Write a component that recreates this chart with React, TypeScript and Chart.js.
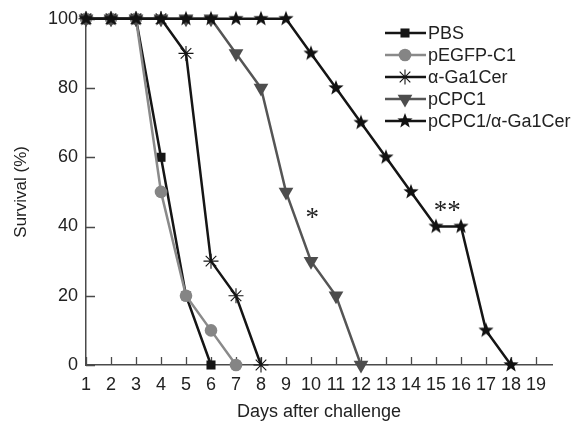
import React, { useEffect, useRef } from 'react';
import { Chart, registerables } from 'chart.js';
import { drawPoint } from 'chart.js/helpers';

Chart.register(...registerables);

// ---- data ----
const days = [1, 2, 3, 4, 5, 6, 7, 8, 9, 10, 11, 12, 13, 14, 15, 16, 17, 18, 19];
const xTickValues = [1, 2, 3, 4, 5, 6, 7, 8, 9, 10, 11, 12, 13, 14, 15, 16, 17, 18, 19];
const yTickValues = [0, 20, 40, 60, 80, 100];
const seriesNames = ['PBS', 'pEGFP-C1', 'α-Ga1Cer', 'pCPC1', 'pCPC1/α-Ga1Cer'];
const pbsValues = [100, 100, 100, 60, 20, 0];
const pegfpValues = [100, 100, 100, 50, 20, 10, 0];
const agalValues = [100, 100, 100, 100, 90, 30, 20, 0];
const pcpc1Values = [100, 100, 100, 100, 100, 100, 90, 80, 50, 30, 20, 0];
const comboValues = [100, 100, 100, 100, 100, 100, 100, 100, 100, 90, 80, 70, 60, 50, 40, 40, 10, 0];
const annotationLabels = ['*', '**'];
const annotationX = [10.05, 15.45];
const annotationY = [44, 46];
const xTitle = 'Days after challenge';
const yTitle = 'Survival (%)';

const FONT = "'Liberation Sans', Arial, Helvetica, sans-serif";
const AXIS = '#4a4a4a';
const TEXT = '#222222';

function makeStar(r: number, color: string): HTMLCanvasElement {
  const c = document.createElement('canvas');
  const s = Math.ceil(r * 2 + 2);
  c.width = s;
  c.height = s;
  const ctx = c.getContext('2d')!;
  ctx.fillStyle = color;
  ctx.beginPath();
  for (let i = 0; i < 10; i++) {
    const a = -Math.PI / 2 + (i * Math.PI) / 5;
    const rr = i % 2 === 0 ? r : r * 0.42;
    ctx.lineTo(s / 2 + rr * Math.cos(a), s / 2 + rr * Math.sin(a));
  }
  ctx.closePath();
  ctx.fill();
  return c;
}

function toPoints(vals: number[]) {
  return vals.map((v, i) => ({ x: days[i], y: v }));
}

const insideTicks = {
  id: 'insideTicks',
  beforeDatasetsDraw(chart: any) {
    const { ctx, chartArea, scales } = chart;
    const x = scales.x;
    const y = scales.y;
    ctx.save();
    ctx.strokeStyle = AXIS;
    ctx.lineWidth = 1.3;
    ctx.beginPath();
    x.ticks.forEach((t: any) => {
      const px = Math.round(x.getPixelForValue(t.value)) + 0.5;
      ctx.moveTo(px, chartArea.bottom);
      ctx.lineTo(px, chartArea.bottom - 8);
    });
    y.ticks.forEach((t: any) => {
      const py = Math.round(y.getPixelForValue(t.value)) + 0.5;
      ctx.moveTo(chartArea.left, py);
      ctx.lineTo(chartArea.left + 9, py);
    });
    ctx.stroke();
    ctx.restore();
  },
};

const customLegend = {
  id: 'customLegend',
  afterDraw(chart: any) {
    const { ctx } = chart;
    ctx.save();
    chart.data.datasets.forEach((ds: any, i: number) => {
      const yy = 33 + i * 22;
      ctx.strokeStyle = ds.borderColor;
      ctx.lineWidth = ds.borderWidth;
      ctx.beginPath();
      ctx.moveTo(385, yy);
      ctx.lineTo(426, yy);
      ctx.stroke();
      ctx.fillStyle = ds.pointBackgroundColor;
      ctx.strokeStyle = ds.pointBorderColor;
      ctx.lineWidth = ds.pointBorderWidth;
      drawPoint(ctx, {
        pointStyle: ds.pointStyle,
        rotation: ds.pointRotation || 0,
        radius: ds.pointRadius,
        borderWidth: ds.pointBorderWidth,
      } as any, 405, yy);
      ctx.fillStyle = TEXT;
      ctx.font = `18px ${FONT}`;
      ctx.textAlign = 'left';
      ctx.textBaseline = 'middle';
      ctx.fillText(ds.label, 428, yy + 1);
    });
    ctx.restore();
  },
};

const annotations = {
  id: 'annotations',
  afterDraw(chart: any) {
    const { ctx, scales } = chart;
    ctx.save();
    ctx.fillStyle = TEXT;
    ctx.font = `27px 'Liberation Serif', 'DejaVu Serif', serif`;
    ctx.textAlign = 'center';
    ctx.textBaseline = 'middle';
    annotationLabels.forEach((lab, i) => {
      ctx.fillText(lab, scales.x.getPixelForValue(annotationX[i]), scales.y.getPixelForValue(annotationY[i]) + 6);
    });
    ctx.restore();
  },
};

export default function App() {
  const ref = useRef<HTMLCanvasElement>(null);
  useEffect(() => {
    if (!ref.current) return;
    const star = makeStar(8, '#111111');
    const base = { showLine: true, borderWidth: 2.5, fill: false, tension: 0, clip: false as any };
    const chart = new Chart(ref.current, {
      type: 'scatter',
      data: {
        datasets: [
          {
            ...base, label: seriesNames[0], data: toPoints(pbsValues), order: 4,
            borderColor: '#151515', pointBackgroundColor: '#151515', pointBorderColor: '#151515',
            pointStyle: 'rect', pointRadius: 6.4, pointBorderWidth: 0,
          },
          {
            ...base, label: seriesNames[1], data: toPoints(pegfpValues), order: 3,
            borderColor: '#8a8a8a', pointBackgroundColor: '#858585', pointBorderColor: '#858585',
            pointStyle: 'circle', pointRadius: 6.3, pointBorderWidth: 0,
          },
          {
            ...base, label: seriesNames[2], data: toPoints(agalValues), order: 2,
            borderColor: '#151515', pointBackgroundColor: '#151515', pointBorderColor: '#151515',
            pointStyle: 'star', pointRadius: 7.5, pointBorderWidth: 1.1,
          },
          {
            ...base, label: seriesNames[3], data: toPoints(pcpc1Values), order: 1,
            borderColor: '#555555', pointBackgroundColor: '#4d4d4d', pointBorderColor: '#4d4d4d',
            pointStyle: 'triangle', pointRotation: 180, pointRadius: 8.5, pointBorderWidth: 0,
          },
          {
            ...base, label: seriesNames[4], data: toPoints(comboValues), order: 0,
            borderColor: '#151515', pointBackgroundColor: '#151515', pointBorderColor: '#151515',
            pointStyle: star as any, pointRadius: 8, pointBorderWidth: 0,
          },
        ] as any,
      },
      options: {
        animation: false,
        responsive: true,
        maintainAspectRatio: false,
        layout: { padding: { left: 0, top: 18, right: 27, bottom: 0 } },
        plugins: { legend: { display: false }, tooltip: { enabled: false } },
        scales: {
          x: {
            type: 'linear',
            min: 1,
            max: 19.64,
            afterBuildTicks: (s: any) => { s.ticks = xTickValues.map((v) => ({ value: v })); },
            afterFit: (s: any) => { s.height = 58; },
            grid: { display: false, drawTicks: false },
            border: { display: true, color: AXIS, width: 1.5 },
            ticks: { padding: 9, color: TEXT, font: { size: 18, family: FONT }, maxRotation: 0, autoSkip: false },
            title: { display: true, text: xTitle, color: TEXT, font: { size: 18, family: FONT }, padding: { top: 0, bottom: 0 } },
          },
          y: {
            type: 'linear',
            min: 0,
            max: 100,
            afterBuildTicks: (s: any) => { s.ticks = yTickValues.map((v) => ({ value: v })); },
            afterFit: (s: any) => { s.width = 86; },
            grid: { display: false, drawTicks: false },
            border: { display: true, color: AXIS, width: 1.5 },
            ticks: { padding: 8, color: TEXT, font: { size: 18, family: FONT } },
            title: { display: true, text: yTitle, color: TEXT, font: { size: 17, family: FONT }, padding: { top: 11, bottom: 0 } },
          },
        },
      },
      plugins: [insideTicks, customLegend, annotations],
    });
    return () => chart.destroy();
  }, []);
  return (
    <div style={{ position: 'absolute', left: 0, top: 0, width: 579, height: 423, background: '#fff' }}>
      <canvas ref={ref} />
    </div>
  );
}
